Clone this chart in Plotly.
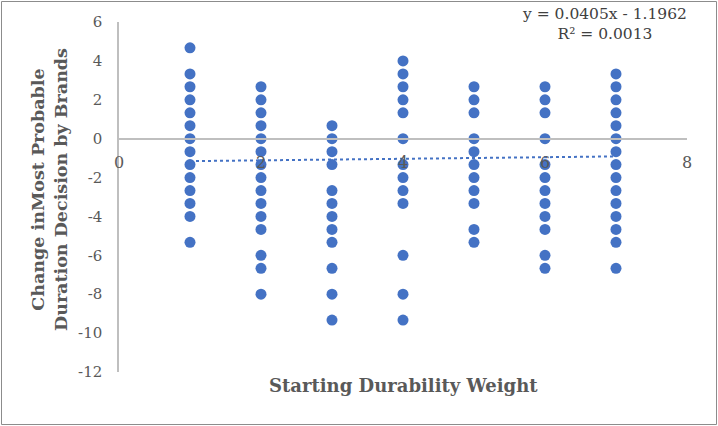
import plotly.graph_objects as go

# Starting durability weight (x) and change in most probable duration (y)
weights = [1, 2, 3, 4, 5, 6, 7]
changes_w1 = [4.67, 3.33, 2.67, 2, 1.33, 0.67, 0, -0.67, -1.33, -2, -2.67, -3.33, -4, -5.33]
changes_w2 = [2.67, 2, 1.33, 0.67, 0, -0.67, -1.33, -2, -2.67, -3.33, -4, -4.67, -6, -6.67, -8]
changes_w3 = [0.67, 0, -0.67, -1.33, -2.67, -3.33, -4, -4.67, -5.33, -6.67, -8, -9.33]
changes_w4 = [4, 3.33, 2.67, 2, 1.33, 0, -1.33, -2, -2.67, -3.33, -6, -8, -9.33]
changes_w5 = [2.67, 2, 1.33, 0, -0.67, -1.33, -2, -2.67, -3.33, -4.67, -5.33]
changes_w6 = [2.67, 2, 1.33, 0, -1.33, -2, -2.67, -3.33, -4, -4.67, -6, -6.67]
changes_w7 = [3.33, 2.67, 2, 1.33, 0.67, 0, -0.67, -1.33, -2, -2.67, -3.33, -4, -4.67, -5.33, -6.67]

trend_slope = 0.0405
trend_intercept = -1.1962
trend_r2 = 0.0013

x_ticks = [0, 2, 4, 6, 8]
x_tick_labels = ["0", "2", "4", "6", "8"]
y_ticks = [-12, -10, -8, -6, -4, -2, 0, 2, 4, 6]
y_tick_labels = ["-12", "-10", "-8", "-6", "-4", "-2", "0", "2", "4", "6"]

x_title = "Starting Durability Weight"
y_title = "Change inMost Probable<br>Duration Decision by Brands"

columns = [changes_w1, changes_w2, changes_w3, changes_w4, changes_w5, changes_w6, changes_w7]
xs, ys = [], []
for w, col in zip(weights, columns):
    xs += [w] * len(col)
    ys += col

tx = [min(weights), max(weights)]
ty = [trend_slope * v + trend_intercept for v in tx]

FONT = "DejaVu Serif"
GREY = "#595959"

fig = go.Figure()
fig.add_trace(go.Scatter(x=xs, y=ys, mode="markers",
                         marker=dict(color="#4472C4", size=11),
                         showlegend=False, hoverinfo="x+y"))
fig.add_trace(go.Scatter(x=tx, y=ty, mode="lines",
                         line=dict(color="#4472C4", width=2, dash="dot"),
                         showlegend=False, hoverinfo="skip"))

fig.update_layout(
    width=718, height=426,
    margin=dict(l=119, r=31, t=22, b=54),
    paper_bgcolor="white", plot_bgcolor="white",
    font=dict(family=FONT, color=GREY, size=14),
    xaxis=dict(range=[0, 8], tickvals=x_ticks, ticktext=x_tick_labels,
               showgrid=False, zeroline=False,
               showline=True, linecolor="#BFBFBF", linewidth=1.5,
               anchor="free", position=12 / 18, ticks="",
               ticklabelstandoff=9, automargin=False,
               tickfont=dict(family=FONT, size=16, color=GREY)),
    yaxis=dict(range=[-12, 6], tickvals=y_ticks, ticktext=y_tick_labels,
               showgrid=False, zeroline=False,
               showline=True, linecolor="#BFBFBF", linewidth=1.5, ticks="",
               ticklabelstandoff=12, automargin=False,
               tickfont=dict(family=FONT, size=15, color=GREY)),
    annotations=[
        dict(text=f"<b>{x_title}</b>", xref="paper", yref="paper",
             x=0.5, y=(372 - 385) / 350, xanchor="center", yanchor="middle",
             showarrow=False, font=dict(family=FONT, size=18, color=GREY)),
        dict(text=f"<b>{y_title}</b>", xref="paper", yref="paper",
             x=(49 - 119) / 568, y=(372 - 190) / 350, xanchor="center", yanchor="middle",
             textangle=-90, showarrow=False,
             font=dict(family=FONT, size=17.5, color=GREY)),
        dict(text=f"y = {trend_slope}x - {abs(trend_intercept)}<br>R² = {trend_r2}",
             xref="paper", yref="paper",
             x=(604 - 119) / 568, y=(372 - 24) / 350, xanchor="center", yanchor="middle",
             showarrow=False, font=dict(family=FONT, size=15.5, color="#404040")),
    ],
    shapes=[dict(type="rect", xref="paper", yref="paper",
                 x0=(1.5 - 119) / 568, x1=(716.5 - 119) / 568,
                 y0=(372 - 424.5) / 350, y1=(372 - 1.5) / 350,
                 line=dict(color="#8c8c8c", width=1), layer="below")],
)

fig.write_html("out.html",
               config={"displayModeBar": False},
               post_script="document.body.style.margin='0';document.body.style.overflow='hidden';")
